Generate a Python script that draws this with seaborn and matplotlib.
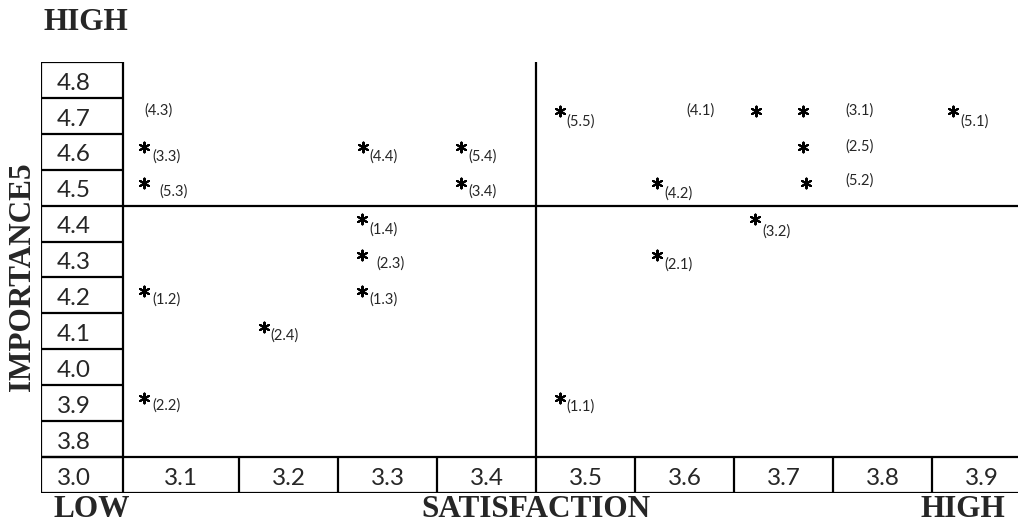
import pandas as pd
import matplotlib
matplotlib.use("Agg")
import matplotlib.pyplot as plt
import matplotlib.transforms as mtransforms
import seaborn as sns

sns.set_style("white")
plt.rcParams["font.family"] = ["Lato", "DejaVu Sans"]

# ---------------------------
# Data
# ---------------------------
# Importance rows (left column, top to bottom)
importance_rows = [4.8, 4.7, 4.6, 4.5, 4.4, 4.3, 4.2, 4.1, 4.0, 3.9, 3.8]
importance_ticks = ["4.8", "4.7", "4.6", "4.5", "4.4", "4.3", "4.2", "4.1", "4.0", "3.9", "3.8"]

# Satisfaction columns (bottom row, left to right)
satisfaction_cols = [3.1, 3.2, 3.3, 3.4, 3.5, 3.6, 3.7, 3.8, 3.9]
satisfaction_ticks = ["3.1", "3.2", "3.3", "3.4", "3.5", "3.6", "3.7", "3.8", "3.9"]
corner_tick = "3.0"

# Asterisks: satisfaction (x) and importance (y)
star_sat = [3.104, 3.104, 3.104, 3.104, 3.225, 3.325, 3.324, 3.324, 3.324,
            3.424, 3.424, 3.524, 3.524, 3.622, 3.622, 3.722, 3.770, 3.770,
            3.773, 3.721, 3.921]
star_imp = [4.6, 4.5, 4.2, 3.9, 4.1, 4.6, 4.4, 4.3, 4.2,
            4.6, 4.5, 4.7, 3.9, 4.5, 4.3, 4.7, 4.7, 4.6,
            4.5, 4.4, 4.7]

# Item codes and where they are written
item_labels = ["(4.3)", "(3.3)", "(5.3)", "(1.2)", "(2.2)", "(2.4)", "(4.4)", "(1.4)",
               "(2.3)", "(1.3)", "(5.4)", "(3.4)", "(5.5)", "(1.1)", "(4.1)", "(3.1)",
               "(2.5)", "(5.2)", "(4.2)", "(3.2)", "(2.1)", "(5.1)"]
label_sat = [3.104, 3.113, 3.120, 3.113, 3.113, 3.232, 3.332, 3.332,
             3.339, 3.332, 3.432, 3.432, 3.531, 3.531, 3.652, 3.812,
             3.812, 3.812, 3.630, 3.729, 3.630, 3.929]
label_imp = [4.715, 4.587, 4.490, 4.189, 3.893, 4.087, 4.587, 4.383,
             4.289, 4.189, 4.587, 4.490, 4.684, 3.892, 4.714, 4.714,
             4.615, 4.519, 4.483, 4.379, 4.286, 4.684]

stars = pd.DataFrame({"Satisfaction": star_sat, "Importance": star_imp})

# ---------------------------
# Layout
# ---------------------------
W, H = 1018, 525
fig = plt.figure(figsize=(W / 100, H / 100), dpi=100)
ax = fig.add_axes([41 / W, (H - 493) / H, 979 / W, 431 / H])
x0, x1 = 3.0, 3.0 + 979 / 990
y0, y1 = 3.65, 4.85
ax.set_xlim(x0, x1)
ax.set_ylim(y0, y1)
ax.axis("off")

lw = 1.6
col_right = 3.083
half = 0.05

# left column of importance values
row_edges = [v + half for v in importance_rows] + [importance_rows[-1] - half]
ax.hlines(row_edges, x0, col_right, color="black", lw=lw)
ax.vlines([x0, col_right], y0, y1, color="black", lw=lw)
# bottom row of satisfaction values
ax.hlines([y0, importance_rows[-1] - half], x0, x1, color="black", lw=lw)
ax.vlines(satisfaction_cols[1:], y0, importance_rows[-1] - half, color="black", lw=lw)
# quadrant lines
ax.vlines(3.5, importance_rows[-1] - half, y1, color="black", lw=lw)
ax.hlines(4.45, col_right, x1, color="black", lw=lw)

tick_fs = 17.5
base_off = 0.027
for v, t in zip(importance_rows, importance_ticks):
    ax.text(x0 + 0.016, v - base_off, t, ha="left", va="baseline", fontsize=tick_fs)
bottom_y = (y0 + importance_rows[-1] - half) / 2
ax.text(x0 + 0.016, bottom_y - base_off, corner_tick, ha="left", va="baseline", fontsize=tick_fs)
edges = [col_right] + satisfaction_cols[1:] + [satisfaction_cols[-1] + 0.1]
for i, t in enumerate(satisfaction_ticks):
    mid = (edges[i] + edges[i + 1]) / 2
    ax.text(mid, bottom_y - base_off, t, ha="center", va="baseline", fontsize=tick_fs)

# asterisks
sns.scatterplot(data=stars, x="Satisfaction", y="Importance", marker=(6, 2, 0),
                s=50, color="black", linewidth=1.5, legend=False, ax=ax, clip_on=False)
coll = ax.collections[-1]
coll.set_offset_transform(ax.transData + mtransforms.ScaledTranslation(0, 3.4 / 72, fig.dpi_scale_trans))

for t, xs, ys in zip(item_labels, label_sat, label_imp):
    ax.text(xs, ys, t, ha="left", va="center", fontsize=10.5)

# serif captions
serif = dict(family=["Liberation Serif", "DejaVu Serif"], fontweight="bold", fontsize=22.5)
fig.text(43 / W, 1 - 30 / H, "HIGH", ha="left", va="baseline", **serif)
fig.text(53 / W, 1 - 517 / H, "LOW", ha="left", va="baseline", **serif)
fig.text(536 / W, 1 - 517 / H, "SATISFACTION", ha="center", va="baseline", **serif)
fig.text(1005 / W, 1 - 517 / H, "HIGH", ha="right", va="baseline", **serif)
fig.text(23 / W, 1 - 277 / H, "IMPORTANCE5", ha="center", va="center", rotation=90, **serif)

fig.savefig("out.png", dpi=100)
plt.close(fig)
